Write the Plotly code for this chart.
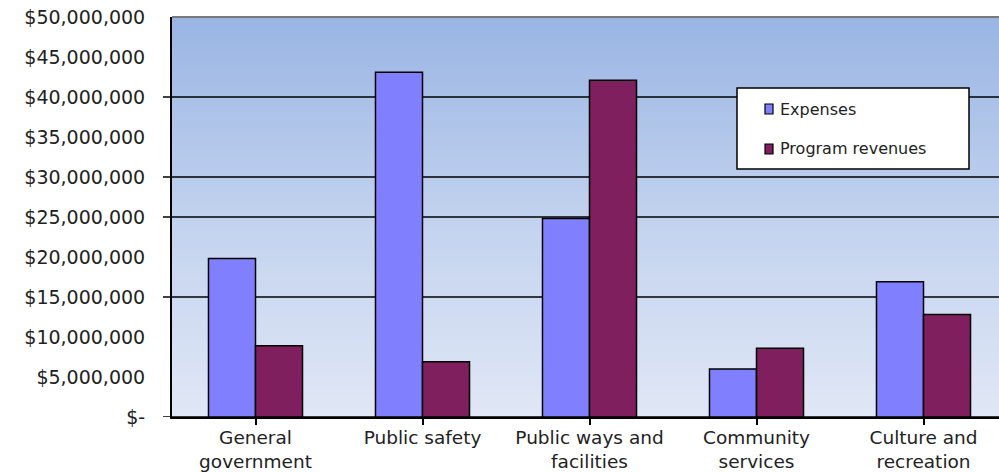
import plotly.graph_objects as go

categories = ["General<br>government", "Public safety", "Public ways and<br>facilities",
              "Community<br>services", "Culture and<br>recreation"]
expenses = [19.8e6, 43.1e6, 24.8e6, 6.0e6, 16.9e6]
program_revenues = [8.9e6, 6.9e6, 42.1e6, 8.6e6, 12.8e6]
y_tick_values = [0, 5e6, 10e6, 15e6, 20e6, 25e6, 30e6, 35e6, 40e6, 45e6, 50e6]
y_tick_labels = ["$-", "$5,000,000", "$10,000,000", "$15,000,000", "$20,000,000", "$25,000,000",
                 "$30,000,000", "$35,000,000", "$40,000,000", "$45,000,000", "$50,000,000"]
grid_values = [15e6, 25e6, 30e6, 40e6]
series_names = ["Expenses", "Program revenues"]

C_EXP = "#8080FF"
C_REV = "#801F5E"
FONT = "DejaVu Sans"
W, H = 999, 472
ML, MT, MB, MR = 172, 17, 55, 0
PW = W - ML - MR
PH = H - MT - MB

fig = go.Figure()
fig.add_trace(go.Bar(x=list(range(len(categories))), y=expenses, name=series_names[0],
                     marker=dict(color=C_EXP, line=dict(color="black", width=1.5)), showlegend=False))
fig.add_trace(go.Bar(x=list(range(len(categories))), y=program_revenues, name=series_names[1],
                     marker=dict(color=C_REV, line=dict(color="black", width=1.5)), showlegend=False))

shapes = []
# gradient background
top = (154, 181, 228)
mid = (194, 210, 238)
bot = (224, 231, 246)
N = 80
for i in range(N):
    t = i / (N - 1)  # 0 bottom -> 1 top
    if t < 0.5:
        a, b, u = bot, mid, t / 0.5
    else:
        a, b, u = mid, top, (t - 0.5) / 0.5
    c = tuple(round(a[k] + (b[k] - a[k]) * u) for k in range(3))
    shapes.append(dict(type="rect", xref="paper", yref="paper", x0=0, x1=1,
                       y0=i / N, y1=(i + 1) / N + 0.002, line=dict(width=0),
                       fillcolor="rgb(%d,%d,%d)" % c, layer="below"))
# gridlines with tick stubs
for gv in grid_values + [0]:
    shapes.append(dict(type="line", xref="paper", yref="y", x0=-9 / PW, x1=1, y0=gv, y1=gv,
                       line=dict(color="black", width=1.6), layer="below"))
# top border
shapes.append(dict(type="line", xref="paper", yref="paper", x0=0, x1=1, y0=1, y1=1,
                   line=dict(color="#7a7a7a", width=2), layer="above"))
# legend box
lx0 = (737 - ML) / PW
lx1 = (969 - ML) / PW
ly0 = (H - MB - 169) / PH
ly1 = (H - MB - 88) / PH
shapes.append(dict(type="rect", xref="paper", yref="paper", x0=lx0, x1=lx1, y0=ly0, y1=ly1,
                   fillcolor="white", line=dict(color="black", width=1.5), layer="above"))
annotations = []
for name, col, yc in [(series_names[0], C_EXP, 109), (series_names[1], C_REV, 149)]:
    sx0 = (765 - ML) / PW
    sx1 = (773 - ML) / PW
    sy0 = (H - MB - (yc + 5)) / PH
    sy1 = (H - MB - (yc - 5)) / PH
    shapes.append(dict(type="rect", xref="paper", yref="paper", x0=sx0, x1=sx1, y0=sy0, y1=sy1,
                       fillcolor=col, line=dict(color="black", width=1.2), layer="above"))
    annotations.append(dict(xref="paper", yref="paper", x=(778 - ML) / PW, y=(H - MB - yc) / PH,
                            text=name, showarrow=False, xanchor="left", yanchor="middle",
                            font=dict(family=FONT, size=16, color="#222")))

fig.update_layout(
    width=W, height=H,
    margin=dict(l=ML, r=MR, t=MT, b=MB, pad=0),
    paper_bgcolor="white", plot_bgcolor="rgba(0,0,0,0)",
    barmode="group", bargap=0.437, bargroupgap=0,
    shapes=shapes, annotations=annotations, showlegend=False,
    xaxis=dict(range=[-0.5, -0.5 + PW / 167.0], tickvals=list(range(len(categories))),
               ticktext=categories, ticks="outside", tickson="boundaries", ticklen=6,
               tickcolor="black", tickwidth=1.5, showgrid=False, zeroline=False,
               showline=True, linecolor="black", linewidth=2, ticklabelstandoff=-3,
               tickfont=dict(family=FONT, size=18.5, color="#222")),
    yaxis=dict(range=[0, 50e6], tickvals=y_tick_values, ticktext=y_tick_labels,
               ticks="", ticklabelstandoff=21, showgrid=False, zeroline=False,
               showline=True, linecolor="black", linewidth=2,
               tickfont=dict(family=FONT, size=19, color="#222")),
)
fig.write_html("out.html", config={"displayModeBar": False},
               post_script="document.body.style.margin='0';document.body.style.padding='0';")
